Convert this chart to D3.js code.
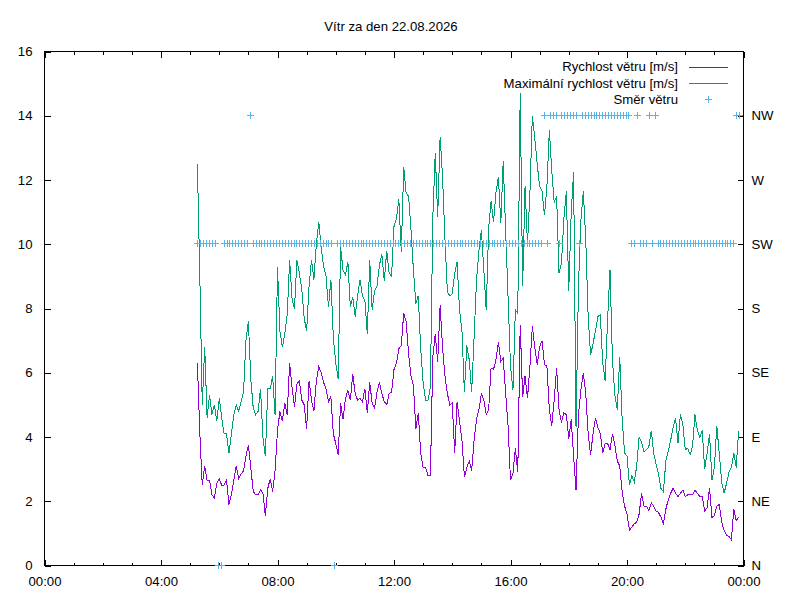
<!DOCTYPE html>
<html><head><meta charset="utf-8">
<script src="https://cdn.jsdelivr.net/npm/d3@7"></script>
<style>
body{margin:0;background:#fff}
svg{display:block}
text{font-family:'Liberation Sans',Arial,Helvetica,sans-serif;fill:#000}
</style>
</head><body>
<svg id="chart" width="800" height="600"></svg>
<script>
// ---------------- data ----------------
const chartTitle = "Vítr za den 22.08.2026";
const seriesNames = ["Rychlost větru [m/s]", "Maximální rychlost větru [m/s]", "Směr větru"];

// wind samples: first sample time and sampling step
const speedStart = "05:15";
const speedStepMin = 5;
const speed = [
6.3,4.1,2.5,3.1,2.65,2.65,2.2,2.1,2.55,2.7,
2.5,2.5,2.65,1.9,2.2,2.65,3.1,2.7,2.85,2.95,
3.4,3.75,3.05,2.3,2.2,2.2,2.35,2.25,1.55,2.4,
2.7,2.3,2.95,4.2,4.8,4.5,5.05,4.7,6.3,5.55,
4.95,5.65,5.75,5.15,5.0,4.25,5.75,5.15,4.8,5.75,
6.2,6.0,5.7,5.5,5.1,5.25,4.1,3.8,3.45,5.05,
4.55,5.2,5.45,5.15,5.95,5.35,5.15,5.2,5.1,5.5,
4.75,5.7,5.05,4.9,5.4,5.7,5.35,5.1,5.0,5.35,
5.4,6.1,6.3,6.75,6.85,7.85,7.6,6.6,5.9,5.6,
4.25,4.75,3.5,3.05,3.05,2.8,2.8,6.5,7.2,6.35,
8.1,6.8,5.9,5.35,5.0,5.05,3.5,5.1,4.5,3.9,
2.75,3.05,3.25,2.95,3.9,4.55,4.85,5.35,5.15,4.7,
4.85,6.15,6.1,6.4,6.95,6.35,6.45,5.35,4.35,2.65,
2.85,3.65,2.9,7.5,5.25,5.9,5.2,6.2,7.45,6.8,
6.25,6.8,7.0,6.25,6.2,4.85,4.35,5.15,6.15,4.85,
4.45,4.75,4.7,3.95,4.55,3.4,2.35,4.7,5.45,6.0,
5.35,4.1,3.45,4.1,4.6,4.3,4.1,3.5,3.8,3.8,
3.6,4.1,3.75,3.25,3.1,2.3,1.85,1.6,1.1,1.2,
1.3,1.35,1.6,2.25,1.85,1.85,1.7,1.95,1.85,1.7,
1.65,1.5,1.3,1.75,2.05,2.25,2.4,2.25,2.15,2.25,
2.35,2.15,2.2,2.2,2.2,2.35,2.25,2.15,2.15,1.7,
1.8,2.4,1.5,1.55,1.85,1.9,1.35,1.1,0.95,0.9,
0.8,1.75,1.4,1.5
];
const gust = [
12.5,9.0,5.0,6.8,4.6,5.3,4.7,5.0,4.5,5.2,
4.6,4.1,4.1,3.5,4.1,4.7,5.0,4.8,5.1,5.4,
7.0,7.6,5.8,4.9,4.7,4.8,5.5,4.0,3.4,5.5,
5.5,5.9,4.7,9.3,7.3,6.8,7.2,7.8,9.5,8.3,
8.0,9.5,9.1,8.6,7.7,7.3,8.7,9.5,8.9,10.0,
10.7,9.9,9.3,9.0,8.05,8.9,7.1,6.3,5.8,9.9,
9.2,9.05,9.45,8.05,8.35,7.75,8.4,8.9,8.4,8.25,
7.2,9.5,7.95,8.55,8.7,9.35,9.7,8.85,9.8,9.1,
9.0,10.55,10.8,11.4,9.75,12.4,11.6,11.5,10.45,9.2,
8.15,8.4,6.75,5.7,5.15,5.15,5.55,10.85,12.85,10.85,
13.35,12.1,10.15,8.5,8.4,8.45,9.1,9.45,7.95,7.3,
5.4,6.85,6.4,5.4,7.1,8.9,9.8,10.45,9.2,7.95,
10.5,11.35,10.7,11.6,12.1,10.65,12.6,10.4,8.35,6.2,
5.45,7.95,7.85,14.7,8.7,11.8,10.0,11.6,14.0,13.3,
12.5,11.8,11.65,10.9,11.8,13.55,12.3,11.3,11.5,9.1,
9.4,10.8,11.65,8.55,10.95,12.25,4.3,8.7,10.75,11.65,
10.15,7.75,6.55,6.9,7.3,7.75,7.8,6.3,5.75,7.65,
9.2,6.4,5.3,4.85,6.5,4.55,3.5,3.4,2.5,2.8,
2.6,3.1,4.0,3.85,3.55,3.6,3.7,4.2,3.5,3.15,
2.85,2.4,2.3,3.25,3.55,3.9,4.3,4.6,3.8,4.7,
4.4,3.6,3.65,3.45,3.7,4.7,4.2,4.0,4.2,3.0,
3.5,4.1,2.65,3.05,4.35,3.5,2.6,2.25,2.55,2.9,
3.05,3.5,3.05,4.2
];

// wind direction samples
const dirStart = "05:15";
const dirStepMin = 6;
const direction = [
"SW","SW","SW","SW","SW","SW","SW","N","N","SW",
"SW","SW","SW","SW","SW","SW","SW","SW","NW","SW",
"SW","SW","SW","SW","SW","SW","SW","SW","SW","SW",
"SW","SW","SW","SW","SW","SW","SW","SW","SW","SW",
"SW","SW","SW","SW","SW","SW","SW","N","SW","SW",
"SW","SW","SW","SW","SW","SW","SW","SW","SW","SW",
"SW","SW","SW","SW","SW","SW","SW","SW","SW","SW",
"SW","SW","SW","SW","SW","SW","SW","SW","SW","SW",
"SW","SW","SW","SW","SW","SW","SW","SW","SW","SW",
"SW","SW","SW","SW","SW","SW","SW","SW","SW","SW",
"SW","SW","SW","SW","SW","SW","SW","SW","SW","SW",
"SW","SW","SW","SW","SW","SW","SW","SW","SW","NW",
"SW","NW","NW","NW","SW","NW","NW","NW","NW","NW",
"NW","SW","NW","NW","NW","NW","NW","NW","NW","NW",
"NW","NW","NW","NW","NW","NW","NW","NW","NW","SW",
"SW","NW","SW","SW","SW","NW","SW","NW","SW","SW",
"SW","SW","SW","SW","SW","SW","SW","SW","SW","SW",
"SW","SW","SW","SW","SW","SW","SW","SW","SW","SW",
"SW","SW","SW","SW","SW","NW","NW"
];

// axes
const xTickLabels = ["00:00","04:00","08:00","12:00","16:00","20:00","00:00"];
const yTicks = [0,2,4,6,8,10,12,14,16];
const dirLabels = ["N","NE","E","SE","S","SW","W","NW"];

const colors = ["#9400d3", "#009e73", "#56b4e9"];

// ---------------- drawing ----------------
const svg = d3.select("#chart");
const L = 44.5, R = 743.5, T = 51.5, B = 565.5;
const FS = "13.2px";

const toMin = s => { const [h, m] = s.split(":").map(Number); return h * 60 + m; };
const x = d3.scaleLinear().domain([0, 1440]).range([L, R]);
const y = d3.scaleLinear().domain([0, 16]).range([B, T]);
const y2 = d3.scaleLinear().domain([0, 16]).range([B, T]);

svg.append("rect").attr("width", 800).attr("height", 600).attr("fill", "#fff");

// title
svg.append("text").attr("x", 391).attr("y", 26).attr("dy", "0.35em")
  .attr("text-anchor", "middle").style("font-size", FS).text(chartTitle);

const majorX = xTickLabels.map((d, i) => i * 240);
const minorX = d3.range(0, 1441, 60).filter(m => m % 240 !== 0);

function styleAxis(g) {
  g.select(".domain").remove();
  g.selectAll("line").attr("stroke", "#000").attr("shape-rendering", "crispEdges");
  g.selectAll("text").style("font-size", FS).attr("fill", "#000")
    .style("font-family", "'Liberation Sans',Arial,sans-serif");
}

// bottom axis
svg.append("g").attr("transform", `translate(0,${B})`)
  .call(d3.axisBottom(x).tickValues(majorX).tickFormat((d, i) => xTickLabels[i])
    .tickSizeInner(-6).tickSizeOuter(0).tickPadding(11)).call(styleAxis);
svg.append("g").attr("transform", `translate(0,${B})`)
  .call(d3.axisBottom(x).tickValues(minorX).tickFormat("")
    .tickSizeInner(-3).tickSizeOuter(0)).call(styleAxis);
// top mirror
svg.append("g").attr("transform", `translate(0,${T})`)
  .call(d3.axisTop(x).tickValues(majorX).tickFormat("")
    .tickSizeInner(-6).tickSizeOuter(0)).call(styleAxis);
svg.append("g").attr("transform", `translate(0,${T})`)
  .call(d3.axisTop(x).tickValues(minorX).tickFormat("")
    .tickSizeInner(-3).tickSizeOuter(0)).call(styleAxis);
// left axis
svg.append("g").attr("transform", `translate(${L},0)`)
  .call(d3.axisLeft(y).tickValues(yTicks).tickFormat(d3.format("d"))
    .tickSizeInner(-6).tickSizeOuter(0).tickPadding(12)).call(styleAxis);
// right axis (direction)
svg.append("g").attr("transform", `translate(${R},0)`)
  .call(d3.axisRight(y2).tickValues(dirLabels.map((d, i) => i * 2))
    .tickFormat((d, i) => dirLabels[i])
    .tickSizeInner(-6).tickSizeOuter(0).tickPadding(8)).call(styleAxis);

// border
svg.append("rect").attr("x", L).attr("y", T).attr("width", R - L).attr("height", B - T)
  .attr("fill", "none").attr("stroke", "#000").attr("shape-rendering", "crispEdges");

// series
const s0 = toMin(speedStart);
const line = d3.line().x((d, i) => x(s0 + i * speedStepMin)).y(d => y(d));
svg.append("path").datum(speed).attr("d", line).attr("fill", "none")
  .style("stroke", colors[0]).attr("stroke-width", 1).attr("shape-rendering", "crispEdges");
svg.append("path").datum(gust).attr("d", line).attr("fill", "none")
  .style("stroke", colors[1]).attr("stroke-width", 1).attr("shape-rendering", "crispEdges");

const d0 = toMin(dirStart);
const plus = "M-3,0H4M0.5,-3.5V3.5";
svg.append("g").selectAll("path").data(direction).join("path")
  .attr("transform", (d, i) => `translate(${Math.round(x(d0 + i * dirStepMin)) - 0.5},${Math.round(y2(dirLabels.indexOf(d) * 2)) - 0.5})`)
  .attr("d", plus).attr("fill", "none").style("stroke", colors[2])
  .attr("stroke-width", 1).attr("shape-rendering", "crispEdges");

// legend
const legY = [66.5, 83, 99.5];
seriesNames.forEach((name, i) => {
  svg.append("text").attr("x", 678).attr("y", legY[i]).attr("dy", "0.35em")
    .attr("text-anchor", "end").style("font-size", FS).text(name);
  if (i < 2) {
    const ly = Math.round(legY[i]) + 0.5;
    svg.append("path").attr("d", d3.line()([[689, ly], [728, ly]]))
      .attr("fill", "none").style("stroke", colors[i]).attr("stroke-width", 1)
      .attr("shape-rendering", "crispEdges");
  } else {
    svg.append("path").attr("transform", `translate(708,${Math.round(legY[i]) - 0.5})`)
      .attr("d", plus).attr("fill", "none").style("stroke", colors[2])
      .attr("shape-rendering", "crispEdges");
  }
});
</script>
</body></html>
